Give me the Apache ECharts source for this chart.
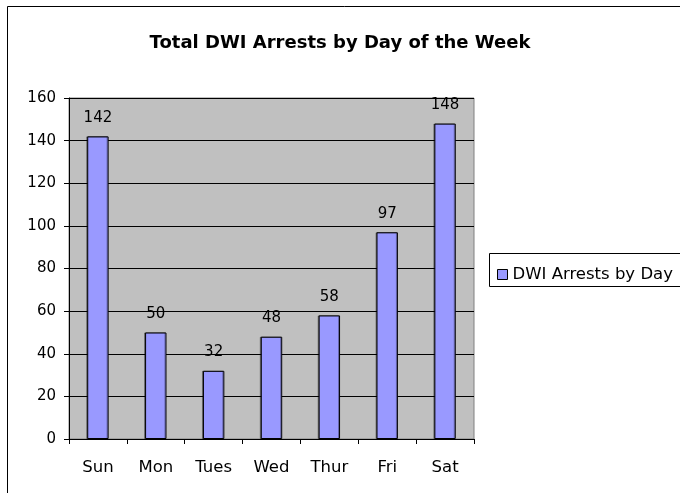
<!DOCTYPE html>
<html><head><meta charset="utf-8">
<script src="https://cdn.jsdelivr.net/npm/echarts@6/dist/echarts.min.js"></script>
<style>html,body{margin:0;padding:0;background:#fff}#c{width:680px;height:493px}</style>
</head><body><div id="c"></div>
<script>
var titleText = 'Total DWI Arrests by Day of the Week';
var seriesName = 'DWI Arrests by Day';
var categories = ['Sun','Mon','Tues','Wed','Thur','Fri','Sat'];
var values = [142, 50, 32, 48, 58, 97, 148];
var yMin = 0, yMax = 160, yStep = 20;

var font = '"DejaVu Sans", sans-serif';
var chart = echarts.init(document.getElementById('c'), null, {renderer:'canvas'});
chart.setOption({
  animation:false,
  backgroundColor:'#fff',
  title:{text:titleText,left:'center',top:29,textStyle:{fontFamily:font,fontSize:18,fontWeight:'bold',color:'#000'}},
  graphic:[
    {type:'rect',shape:{x:7.5,y:6.5,width:700,height:520},style:{fill:'none',stroke:'#000',lineWidth:1},z:-10},
    {type:'rect',shape:{x:489.5,y:253.5,width:220,height:33},style:{fill:'#fff',stroke:'#000',lineWidth:1},z:-5}
  ],
  legend:{left:492,top:261,itemWidth:10,itemHeight:10,itemGap:5,icon:'rect',
    textStyle:{fontFamily:font,fontSize:16.5,color:'#000'},
    data:[{name:seriesName,itemStyle:{color:'#9999ff',borderColor:'#000',borderWidth:1}}]},
  grid:{left:69,top:98,width:405,height:341,show:true,backgroundColor:'#c0c0c0',borderColor:'#808080',borderWidth:1},
  xAxis:{type:'category',data:categories,
    axisLine:{lineStyle:{color:'#000',width:1}},
    axisTick:{show:true,alignWithLabel:false,length:5,lineStyle:{color:'#000'}},
    axisLabel:{fontFamily:font,fontSize:16.5,color:'#000',margin:20},
    splitLine:{show:false}},
  yAxis:{type:'value',min:yMin,max:yMax,interval:yStep,
    axisLine:{show:true,lineStyle:{color:'#000',width:1}},
    axisTick:{show:true,length:5,lineStyle:{color:'#000'}},
    axisLabel:{fontFamily:font,fontSize:15,color:'#000',margin:13},
    splitLine:{show:true,lineStyle:{color:'#000',width:1}}},
  series:[{name:seriesName,type:'bar',data:values,barWidth:'37%',
    itemStyle:{color:'#9999ff',borderColor:'#000',borderWidth:1,shadowColor:'rgba(0,0,0,0.35)',shadowOffsetX:-1,shadowBlur:0},
    label:{show:true,position:'top',distance:11,fontFamily:font,fontSize:15,color:'#000'}}]
});
</script></body></html>
